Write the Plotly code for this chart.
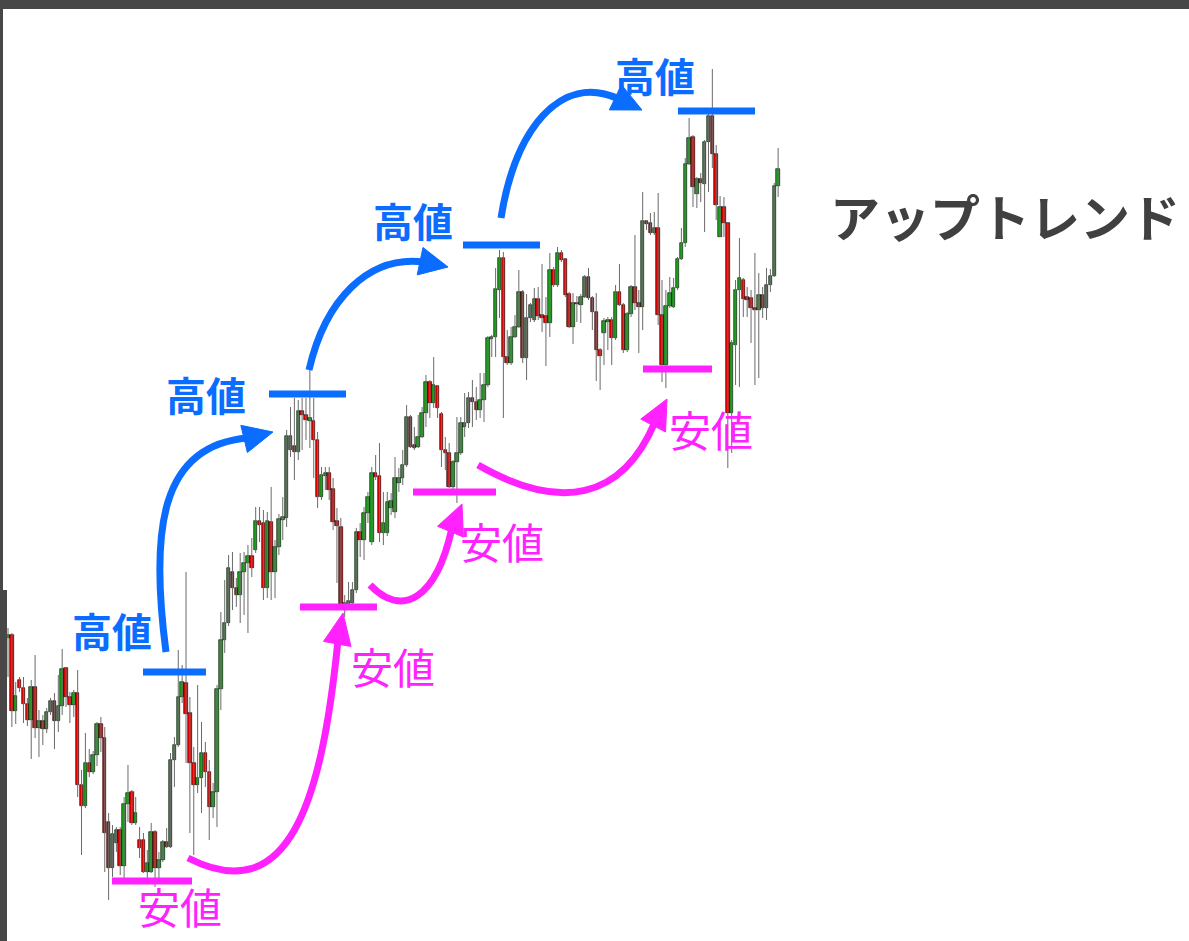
import plotly.graph_objects as go

# ---------------- data (price units) ----------------
open_ = [362, 365, 289, 320, 312, 296, 280, 313, 272, 279,
         271, 288, 299, 279, 294, 332, 303, 295, 307, 215,
         194, 237, 228, 245, 276, 262, 178, 132, 157, 170,
         134, 196, 208, 177, 160, 160, 128, 128, 168, 132,
         140, 158, 153, 240, 255, 303, 317, 287, 237, 215,
         222, 247, 228, 193, 208, 311, 360, 377, 428, 412,
         405, 428, 437, 444, 450, 479, 477, 412, 478, 428,
         453, 480, 482, 550, 554, 548, 589, 585, 579, 579,
         560, 503, 524, 527, 511, 479, 473, 395, 395, 397,
         410, 468, 460, 487, 458, 527, 524, 467, 467, 492,
         488, 517, 522, 535, 583, 555, 553, 563, 587, 618,
         597, 614, 586, 550, 547, 513, 538, 547, 573, 577,
         602, 598, 590, 600, 615, 661, 663, 710, 742, 643,
         637, 663, 673, 708, 642, 682, 680, 701, 685, 684,
         677, 730, 715, 747, 741, 706, 673, 697, 695, 703,
         723, 702, 688, 650, 667, 678, 680, 662, 708, 695,
         650, 686, 713, 697, 693, 779, 777, 767, 772, 685,
         635, 694, 693, 712, 741, 757, 836, 863, 806, 821,
         816, 858, 884, 846, 763, 793, 777, 587, 655, 710,
         720, 703, 702, 692, 690, 705, 692, 715, 724, 814]

close = [365, 289, 304, 312, 296, 280, 313, 272, 279, 271,
         288, 299, 279, 294, 331, 303, 295, 307, 215, 194,
         237, 228, 245, 276, 262, 167, 132, 166, 170, 134,
         196, 207, 177, 187, 152, 128, 137, 168, 132, 140,
         158, 153, 240, 255, 303, 318, 286, 237, 215, 222,
         247, 228, 193, 208, 311, 360, 377, 432, 412, 405,
         428, 437, 444, 432, 479, 475, 412, 479, 428, 453,
         481, 483, 564, 564, 548, 589, 585, 580, 582, 560,
         503, 525, 527, 510, 478, 474, 395, 397, 399, 410,
         468, 460, 487, 503, 527, 523, 467, 477, 498, 499,
         522, 522, 535, 583, 553, 552, 563, 587, 618, 597,
         615, 592, 550, 547, 513, 538, 547, 577, 577, 602,
         598, 590, 600, 615, 662, 663, 711, 742, 643, 637,
         663, 673, 708, 642, 682, 695, 701, 684, 682, 677,
         730, 715, 747, 740, 705, 673, 697, 696, 703, 723,
         702, 688, 650, 644, 679, 680, 662, 708, 695, 650,
         686, 713, 697, 693, 779, 776, 767, 772, 685, 635,
         694, 707, 712, 741, 757, 836, 862, 813, 821, 817,
         858, 884, 846, 795, 793, 777, 587, 657, 710, 722,
         701, 700, 692, 690, 705, 692, 715, 724, 814, 831]

high = [372, 367, 318, 323, 323, 302, 320, 345, 290, 285,
        292, 302, 307, 325, 351, 333, 308, 310, 330, 230,
        267, 251, 249, 278, 283, 273, 187, 175, 173, 173,
        203, 235, 210, 203, 173, 167, 150, 177, 170, 148,
        160, 172, 247, 263, 350, 335, 428, 303, 253, 315,
        278, 258, 240, 217, 315, 388, 420, 445, 448, 422,
        447, 448, 455, 462, 493, 493, 490, 488, 513, 460,
        486, 503, 570, 593, 602, 600, 602, 602, 630, 602,
        568, 533, 533, 533, 522, 492, 482, 405, 418, 418,
        472, 477, 493, 508, 533, 545, 557, 508, 508, 507,
        543, 532, 550, 595, 585, 573, 585, 593, 625, 620,
        643, 615, 588, 563, 557, 540, 583, 583, 607, 608,
        620, 613, 627, 627, 664, 665, 732, 750, 748, 670,
        673, 685, 730, 710, 706, 697, 712, 713, 736, 703,
        747, 733, 753, 750, 742, 708, 707, 704, 706, 725,
        732, 704, 707, 652, 682, 683, 683, 715, 736, 697,
        688, 715, 765, 710, 808, 780, 787, 788, 807, 720,
        710, 723, 722, 743, 772, 842, 882, 865, 823, 827,
        860, 890, 931, 855, 804, 803, 777, 660, 720, 762,
        722, 713, 710, 747, 727, 713, 732, 731, 817, 852]

low = [323, 273, 276, 308, 277, 274, 241, 262, 243, 255,
       267, 285, 251, 268, 285, 293, 277, 283, 203, 145,
       192, 223, 226, 234, 248, 128, 100, 123, 148, 125,
       122, 178, 175, 175, 142, 127, 120, 127, 113, 120,
       138, 152, 152, 213, 253, 297, 237, 167, 145, 207,
       187, 213, 160, 182, 173, 290, 347, 374, 390, 393,
       377, 385, 367, 423, 447, 458, 400, 402, 400, 402,
       445, 460, 473, 543, 520, 540, 550, 560, 552, 522,
       492, 500, 510, 500, 470, 417, 393, 383, 393, 395,
       407, 443, 440, 477, 455, 520, 458, 455, 464, 485,
       482, 508, 515, 533, 552, 550, 552, 562, 573, 582,
       592, 582, 533, 530, 512, 510, 497, 545, 563, 572,
       573, 580, 582, 578, 613, 643, 643, 682, 582, 635,
       635, 662, 672, 637, 620, 678, 678, 680, 668, 634,
       663, 713, 713, 738, 703, 672, 656, 678, 677, 702,
       700, 670, 619, 610, 635, 650, 635, 660, 694, 647,
       648, 683, 690, 647, 670, 770, 765, 765, 675, 618,
       612, 692, 692, 710, 740, 753, 835, 793, 792, 798,
       768, 808, 832, 780, 763, 763, 532, 547, 615, 613,
       683, 683, 657, 615, 622, 682, 680, 708, 723, 803]

trend_label = "アップトレンド"
high_label = "高値"
low_label = "安値"

# ---------------- styling / layout helpers ----------------
W, H = 1189, 941
X0_PX, DX_PX = 8.0, 3.87          # pixel x of first candle, pixel step
Y_TOP = 1000.0                     # price at the top pixel row

def P(px, py):
    """pixel position -> data coordinates (decorations only)"""
    return ((px - X0_PX) / DX_PX, Y_TOP - py)

GREEN = "#1aa31a"
RED = "#ee0000"
BLUE = "#0a6dff"
MAGENTA = "#ff22ff"
WICK = "#6a6a6a"

n = len(open_)
idx = list(range(n))

fig = go.Figure()

# wicks
wx, wy = [], []
for i in idx:
    wx += [i, i, None]
    wy += [low[i], high[i], None]
fig.add_trace(go.Scatter(x=wx, y=wy, mode="lines",
                         line=dict(color=WICK, width=1), hoverinfo="skip",
                         showlegend=False))

# bodies
base = [min(o, c) for o, c in zip(open_, close)]
hgt = [max(abs(c - o), 1.5) for o, c in zip(open_, close)]
cols = [GREEN if c >= o else RED for o, c in zip(open_, close)]
fig.add_trace(go.Bar(x=idx, y=hgt, base=base, width=0.9,
                     marker=dict(color=cols, line=dict(color="#000000", width=0.6)),
                     showlegend=False, hoverinfo="skip"))

shapes = []
annotations = []

# hatched frame (approximated with dark strips)
for (x0, y0, x1, y1) in [(0, 0, W, 9), (0, 9, 3, 590), (0, 590, 7, H)]:
    shapes.append(dict(type="rect", xref="paper", yref="paper",
                       x0=x0 / W, x1=x1 / W, y0=1 - y1 / H, y1=1 - y0 / H,
                       fillcolor="#474747", line=dict(width=0), layer="above"))

# level lines
blue_levels = [(143, 206, 672), (269, 346, 394), (463, 540, 245), (678, 755, 111)]
pink_levels = [(112, 192, 881), (300, 377, 607), (413, 496, 492), (643, 712, 369)]
for lv, col in [(blue_levels, BLUE), (pink_levels, MAGENTA)]:
    for (a, b, yy) in lv:
        xa, ya = P(a, yy)
        xb, _ = P(b, yy)
        shapes.append(dict(type="line", xref="x", yref="y", x0=xa, x1=xb,
                           y0=ya, y1=ya, line=dict(color=col, width=7),
                           layer="above"))

# curved arrows: start, ctrl1, ctrl2, end, tip (pixels)
blue_arrows = [
    ((166, 652), (150, 530), (160, 445), (248, 438), (273, 432)),
    ((309, 370), (325, 300), (368, 255), (424, 262), (448, 267)),
    ((501, 218), (515, 130), (560, 72), (619, 99), (642, 110)),
]
pink_arrows = [
    ((188, 858), (290, 910), (322, 800), (338, 640), (343, 613)),
    ((370, 585), (402, 618), (436, 600), (452, 528), (462, 504)),
    ((478, 465), (560, 512), (622, 500), (655, 422), (667, 399)),
]

def path_pts(pts):
    return " ".join("%.3f,%.3f" % P(*p) for p in pts)

for arrows, col in [(blue_arrows, BLUE), (pink_arrows, MAGENTA)]:
    for s, c1, c2, e, t in arrows:
        shapes.append(dict(type="path", xref="x", yref="y",
                           path="M %s C %s" % (path_pts([s]), path_pts([c1, c2, e])),
                           line=dict(color=col, width=7), layer="above"))
        dx, dy = t[0] - e[0], t[1] - e[1]
        L = (dx * dx + dy * dy) ** 0.5
        ux, uy = dx / L, dy / L
        hw = 14
        bx, by = e[0] - ux * 4, e[1] - uy * 4
        b1 = (bx - uy * hw, by + ux * hw)
        b2 = (bx + uy * hw, by - ux * hw)
        shapes.append(dict(type="path", xref="x", yref="y",
                           path="M %s L %s L %s Z" % (path_pts([t]), path_pts([b1]), path_pts([b2])),
                           fillcolor=col, line=dict(color=col, width=1), layer="above"))

# labels
CJK = "Noto Sans CJK JP"
for (px, py) in [(112, 630), (206, 394), (413, 220), (655, 75)]:
    x, y = P(px, py)
    annotations.append(dict(x=x, y=y, xref="x", yref="y", text=high_label,
                            showarrow=False, xanchor="center", yanchor="middle",
                            font=dict(family=CJK, size=40, color=BLUE, weight="bold")))
for (px, py) in [(180, 905), (393, 665), (502, 540), (711, 428)]:
    x, y = P(px, py)
    annotations.append(dict(x=x, y=y, xref="x", yref="y", text=low_label,
                            showarrow=False, xanchor="center", yanchor="middle",
                            font=dict(family=CJK, size=42, color=MAGENTA)))
x, y = P(1005, 215)
annotations.append(dict(x=x, y=y, xref="x", yref="y", text=trend_label,
                        showarrow=False, xanchor="center", yanchor="middle",
                        font=dict(family=CJK, size=50, color="#404040", weight="bold")))

fig.update_layout(
    width=W, height=H,
    margin=dict(l=0, r=0, t=0, b=0),
    paper_bgcolor="white", plot_bgcolor="white",
    showlegend=False,
    xaxis=dict(range=[-X0_PX / DX_PX, (W - X0_PX) / DX_PX], visible=False,
               fixedrange=True),
    yaxis=dict(range=[Y_TOP - H, Y_TOP], visible=False, fixedrange=True),
    shapes=shapes, annotations=annotations,
    bargap=0,
)

fig.write_html("out.html", config={"displayModeBar": False},
               post_script="document.body.style.margin='0';document.body.style.padding='0';document.body.style.overflow='hidden';")
